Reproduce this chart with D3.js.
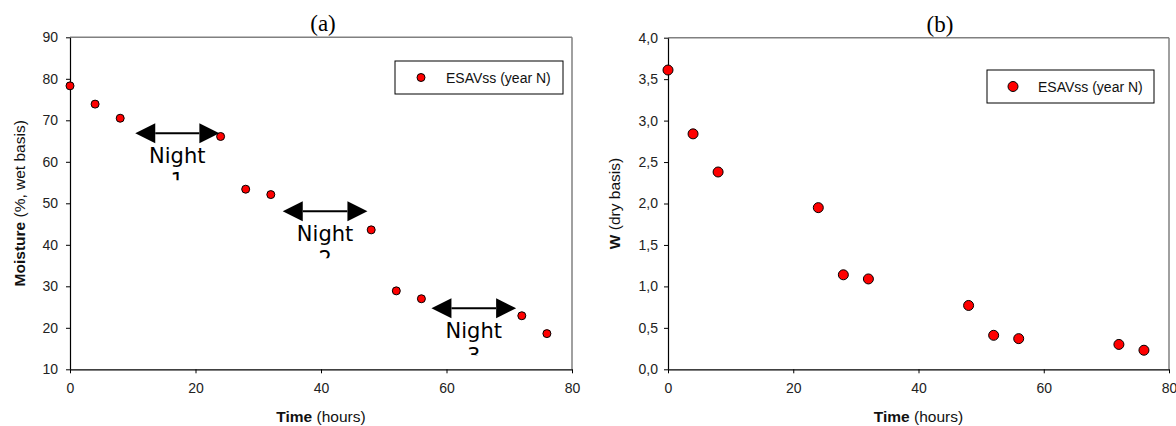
<!DOCTYPE html>
<html>
<head>
<meta charset="utf-8">
<script src="https://cdn.jsdelivr.net/npm/d3@7/dist/d3.min.js"></script>
<style>
  html, body { margin: 0; padding: 0; background: #fff; }
  svg { display: block; }
  text { font-family: "Liberation Sans", Arial, sans-serif; }
</style>
</head>
<body>
<svg id="chart" width="1176" height="426"></svg>
<script>
// Drying kinetics of ESAVss, year N
const timeHours = [0, 4, 8, 24, 28, 32, 48, 52, 56, 72, 76];
const moistureWet = [78.3, 73.9, 70.5, 66.1, 53.4, 52.1, 43.6, 28.9, 27.0, 22.9, 18.6];
const waterDry = [3.61, 2.84, 2.38, 1.95, 1.14, 1.09, 0.77, 0.41, 0.37, 0.30, 0.23];

const timeTicks = [0, 20, 40, 60, 80];
const moistureTicks = [10, 20, 30, 40, 50, 60, 70, 80, 90];
const waterTicks = [0, 0.5, 1, 1.5, 2, 2.5, 3, 3.5, 4];

// Night periods: start/end hours and level of the arrow in moisture units
const nightNames = ["Night", "Night", "Night"];
const nightNumbers = ["1", "2", "3"];
const nightStart = [10.4, 33.9, 57.6];
const nightEnd = [23.8, 47.4, 71.1];
const nightLevel = [66.9, 48.1, 24.7];

const seriesName = "ESAVss (year N)";

const svg = d3.select("#chart");

function panel(opts) {
  const g = svg.append("g");
  const x = d3.scaleLinear().domain([0, 80]).range([opts.left, opts.right]);
  const y = d3.scaleLinear().domain(opts.yDomain).range([opts.bottom, opts.top]);

  // grey frame on top and right
  g.append("line").attr("x1", opts.left).attr("x2", opts.right)
    .attr("y1", opts.top).attr("y2", opts.top)
    .attr("stroke", "#808080").attr("stroke-width", 1.5);
  g.append("line").attr("x1", opts.right).attr("x2", opts.right)
    .attr("y1", opts.top).attr("y2", opts.bottom)
    .attr("stroke", "#808080").attr("stroke-width", 1.5);

  const xAxis = g.append("g").attr("transform", `translate(0,${opts.bottom})`)
    .call(d3.axisBottom(x).tickValues(timeTicks).tickSize(4).tickPadding(10).tickSizeOuter(0));
  const yAxis = g.append("g").attr("transform", `translate(${opts.left},0)`)
    .call(d3.axisLeft(y).tickValues(opts.yTicks).tickFormat(opts.yFormat)
      .tickSize(4).tickPadding(opts.yPad).tickSizeOuter(0));
  [xAxis, yAxis].forEach(a => {
    a.select(".domain").attr("stroke", "#000").attr("stroke-width", 1.2);
    a.selectAll(".tick line").attr("stroke", "#000");
    a.selectAll(".tick text").attr("fill", "#222")
      .style("font-family", "'Liberation Sans', Arial, sans-serif").style("font-size", "14px");
  });

  // axis titles
  const xt = g.append("text").attr("x", (opts.left + opts.right) / 2).attr("y", opts.bottom + 53)
    .attr("text-anchor", "middle").style("font-size", "15.5px").attr("fill", "#111");
  xt.append("tspan").attr("font-weight", "bold").text("Time");
  xt.append("tspan").text(" (hours)");

  const yt = g.append("text")
    .attr("transform", `translate(${opts.yTitleX},${(opts.top + opts.bottom) / 2}) rotate(-90)`)
    .attr("text-anchor", "middle").style("font-size", "15.5px").attr("fill", "#111");
  yt.append("tspan").attr("font-weight", "bold").text(opts.yBold);
  yt.append("tspan").text(opts.yRest);

  // panel title
  g.append("text").attr("x", opts.titleX).attr("y", opts.top - 6)
    .attr("text-anchor", "middle")
    .style("font-family", "'Liberation Serif', 'Times New Roman', serif")
    .style("font-size", "23px").attr("fill", "#000").text(opts.title);

  // points
  g.selectAll("circle.pt").data(timeHours.map((t, i) => [t, opts.values[i]]))
    .join("circle").attr("class", "pt")
    .attr("cx", d => x(d[0])).attr("cy", d => y(d[1]))
    .attr("r", opts.r).attr("fill", "#ff0000").attr("stroke", "#000").attr("stroke-width", 1);

  // legend
  const L = opts.legend;
  g.append("rect").attr("x", L.x).attr("y", L.y).attr("width", L.w).attr("height", L.h)
    .attr("fill", "#fff").attr("stroke", "#000").attr("stroke-width", 1);
  g.append("circle").attr("cx", L.x + 26).attr("cy", L.y + L.h / 2).attr("r", opts.r)
    .attr("fill", "#ff0000").attr("stroke", "#000").attr("stroke-width", 1);
  g.append("text").attr("x", L.x + 51).attr("y", L.y + L.h / 2 + 5)
    .style("font-size", "14px").attr("fill", "#111").text(seriesName);

  return { g, x, y };
}

const a = panel({
  left: 70, right: 572, top: 37.3, bottom: 369.3,
  yDomain: [10, 90], yTicks: moistureTicks, yFormat: d3.format("d"), yPad: 8,
  values: moistureWet, r: 4,
  yTitleX: 25, yBold: "Moisture", yRest: " (%, wet basis)",
  title: "(a)", titleX: 323,
  legend: { x: 395, y: 61, w: 168, h: 33 }
});

panel({
  left: 668, right: 1169, top: 37.7, bottom: 369.3,
  yDomain: [0, 4], yTicks: waterTicks, yFormat: v => d3.format(".1f")(v).replace(".", ","), yPad: 6,
  values: waterDry, r: 5,
  yTitleX: 620, yBold: "W", yRest: " (dry basis)",
  title: "(b)", titleX: 940,
  legend: { x: 987, y: 70, w: 167, h: 33 }
});

// night annotations on panel (a): double-headed arrow with a clipped two-line label
const defs = svg.append("defs");
nightStart.forEach((s, i) => {
  const x0 = a.x(s), x1 = a.x(nightEnd[i]), yy = a.y(nightLevel[i]);
  const head = 20, half = 10;
  const ng = a.g.append("g");
  ng.append("line").attr("x1", x0 + head).attr("x2", x1 - head).attr("y1", yy).attr("y2", yy)
    .attr("stroke", "#000").attr("stroke-width", 2);
  ng.append("path").attr("d", `M${x0},${yy}L${x0 + head},${yy - half}L${x0 + head},${yy + half}Z`)
    .attr("fill", "#000");
  ng.append("path").attr("d", `M${x1},${yy}L${x1 - head},${yy - half}L${x1 - head},${yy + half}Z`)
    .attr("fill", "#000");

  const cx = (x0 + x1) / 2;
  defs.append("clipPath").attr("id", "nclip" + i)
    .append("rect").attr("x", cx - 50).attr("y", yy + 8).attr("width", 100).attr("height", 39);
  const t = ng.append("text").attr("clip-path", `url(#nclip${i})`)
    .attr("text-anchor", "middle")
    .style("font-family", "'DejaVu Sans', sans-serif").style("font-size", "21px").attr("fill", "#000");
  t.append("tspan").attr("x", cx).attr("y", yy + 30).text(nightNames[i]);
  t.append("tspan").attr("x", cx).attr("y", yy + 55).text(nightNumbers[i]);
});
</script>
</body>
</html>
